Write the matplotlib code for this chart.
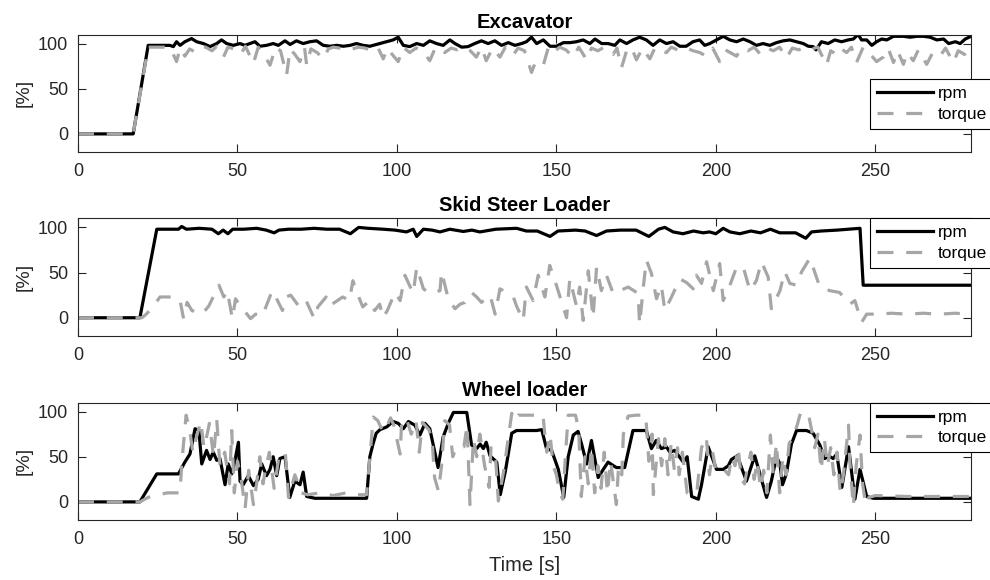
import matplotlib
matplotlib.use("Agg")
import matplotlib.pyplot as plt

plt.rcParams['font.family'] = ['Liberation Sans', 'DejaVu Sans']

# Excavator
exc_rpm_t = [0, 17.3, 22, 28.8, 29.9, 30.9, 32, 33.5, 35.6, 37.2, 39.3, 41.4, 43.5, 45, 46.6, 48.7, 50.8, 52.3, 53.9,
             55.5, 57, 59.1, 61.2, 62.8, 64.9, 66.5, 68.5, 70.6, 72.7, 74.8, 76.9, 79, 81.1, 83.2, 85.3, 87.3, 89.4,
             91.5, 93.6, 95.7, 98.8, 100.4, 102, 104, 106.2, 108.3, 110.3, 112.4, 114.5, 116.6, 118.2, 120.3, 122.3,
             124.4, 126.5, 128.6, 130.7, 132.8, 134.9, 137, 139.1, 140.6, 142.2, 143.8, 145.9, 148, 150, 152.2, 154.3,
             156.3, 158.4, 160.5, 162.1, 164.2, 166.2, 168.3, 169.9, 172, 174, 176.1, 178.2, 180.3, 182.4, 184.5,
             186.6, 188.7, 190.7, 192.8, 194.9, 196.5, 198.1, 200.2, 202.3, 204.4, 206.5, 208.6, 210.7, 212.7, 214.8,
             216.9, 219, 221.1, 223.2, 225.3, 227.4, 229, 230.5, 231.4, 233.1, 235.2, 237.3, 239.4, 241.5, 243.1,
             244.6, 245.7, 247.3, 248.9, 250.4, 252, 253.6, 255.7, 258.8, 260.9, 263, 265.1, 267.2, 269.3, 271.4,
             273, 275.1, 276.6, 278.2, 280]
exc_rpm = [0, 0, 98, 98, 96.6, 102, 98, 102, 105.5, 102, 100, 96.6, 100, 104, 100, 98, 100, 98, 100,
           102, 97, 98, 100, 98, 103, 99, 103, 100, 102, 103, 98, 97, 98, 97, 98, 100, 98,
           97, 99, 101, 104, 107, 98, 96.6, 100, 98, 103, 100, 98, 104, 100, 96, 96.6,
           100, 103, 100, 103, 98, 101, 98, 100, 102, 107, 100, 104, 97, 97, 101, 101,
           102, 104, 100, 105, 100, 100, 98, 104, 100, 104, 107, 104, 98, 104, 100,
           102, 97, 97, 102, 104, 98, 100, 104, 108, 104, 102, 105, 102, 98, 100,
           98, 101, 103, 104, 102, 100, 97, 96.6, 93, 102, 100, 104, 102, 104, 105,
           110, 104, 104, 98, 102, 105, 104, 108, 108, 107, 108, 108, 107, 104, 105,
           100, 102, 100, 105, 108]
exc_tq_t = [0, 17.3, 22, 27, 29, 30.9, 32, 33.5, 35, 36.5, 38, 40, 42, 43.5, 45.6, 47, 49, 51, 52.5, 55, 56.5, 58,
            60.2, 62, 63.5, 65.4, 66.5, 68, 69.6, 71, 71.7, 73, 75, 76.9, 78.5, 80, 82, 84, 86, 88, 90, 92, 94, 95.7,
            97, 98.5, 100.4, 102, 104, 106, 108, 110.3, 112, 113, 115, 117, 119, 121, 123, 124.9, 126.5, 128, 130,
            132.3, 134, 136.4, 138, 140, 142.2, 143.5, 145.9, 147.5, 149, 151, 153, 155.3, 157, 159.5, 161, 163, 165,
            167.8, 169, 170.4, 172, 173.5, 175.1, 177, 179.3, 181, 183, 184.5, 186, 188, 190, 192.9, 195, 197, 199,
            201.2, 203, 204.5, 206.5, 208, 210, 212, 214, 216, 218, 220, 222.1, 224, 226, 228, 230, 232, 234.7, 236,
            237.8, 239, 241, 242.5, 244.1, 246.2, 248, 250.4, 252.5, 254, 255.7, 257, 258.8, 260, 261.9, 263.5,
            266.1, 268, 270.3, 272, 274.5, 276, 278, 279.8]
exc_tq = [0, 0, 96, 96, 95, 80, 95, 86, 94, 91, 97, 96, 92, 97, 85, 96, 94, 88, 97, 78, 96, 90,
          76, 96, 92, 65, 94, 88, 80, 96, 76, 94, 90, 83, 94, 96, 95, 96, 94, 96, 95, 92, 96, 83,
          95, 88, 80, 96, 90, 95, 92, 81, 95, 96, 90, 95, 93, 96, 92, 85, 96, 81, 95,
          85, 96, 87, 95, 92, 68, 80, 76, 96, 90, 96, 93, 85, 96, 82, 95, 92, 96,
          88, 95, 73, 92, 96, 82, 95, 83, 96, 92, 90, 96, 93, 96, 92, 90, 86, 95,
          80, 93, 90, 86, 95, 92, 96, 88, 95, 92, 96, 84, 95, 93, 96, 94, 96, 76, 92,
          88, 95, 90, 96, 79, 96, 90, 80, 85, 95, 79, 92, 77, 90, 81, 93,
          77, 90, 86, 95, 79, 92, 88, 75]

# Skid steer loader
skid_rpm_t = [0, 19.4, 24.7, 31.5, 32.5, 34, 38, 42, 44, 45.5, 47, 48.5, 52, 56, 59, 61.5, 63, 66, 70, 74, 78, 82,
              85.4, 88, 91, 95.7, 99.4, 103, 105.1, 106.2, 108.3, 111, 113.5, 116.6, 120.8, 123.5, 126, 131, 137.5,
              140.6, 144, 148, 150.5, 156, 159, 162.6, 165.7, 170, 175, 179, 182, 184, 186.6, 189.7, 193, 196, 198,
              200, 202.3, 204.4, 207.5, 211, 214, 217.1, 220, 225, 228.2, 230, 233, 238, 245.2, 246.2, 280]
skid_rpm = [0, 0, 98, 98, 101, 98, 99, 98, 93, 97, 93, 98, 98, 99, 97, 94, 97, 98, 98, 99, 98, 98,
            93, 100, 99, 98, 97, 95, 98, 90, 98, 97, 95, 98, 95.5, 97, 95, 98, 99,
            96, 96, 90, 96, 97, 96, 91, 96, 97, 97, 90, 98, 100, 95, 93, 96, 94, 95,
            93, 99, 95, 93, 96, 94, 98, 94, 94, 88, 95, 96, 97, 99, 36, 36]
skid_tq_t = [0, 20, 21.4, 23.5, 25.7, 30.4, 32, 33.1, 34.2, 35.7, 38.9, 41, 44.2, 45.7, 46.8, 48.4, 49.4, 50.5,
             54.1, 55.7, 57.8, 60.9, 62, 64.1, 65.2, 66.7, 69.4, 71.5, 74.1, 75.2, 77.8, 78.8, 83, 85.1, 86.2,
             87.2, 89.3, 91.4, 93, 94.6, 95.6, 97, 99.4, 101, 102.5, 105.1, 106.2, 108.3, 110.3, 113.5, 114,
             116.1, 118.2, 119.8, 121.3, 123.4, 125, 126.5, 129.2, 130.8, 132.3, 134.4, 136.5, 137.5, 139.6,
             140.6, 142.7, 144.3, 146.4, 147.9, 150, 153.2, 154.2, 156.3, 157.3, 158.4, 160, 161.5, 162.6, 164.1,
             165.7, 167.8, 169.9, 172.5, 175.6, 176.1, 177.2, 178.2, 179.8, 181.4, 182.9, 184, 186.1, 188.7,
             190.8, 192.9, 193.9, 195.5, 197.1, 199.2, 201.2, 202.3, 204.4, 206.5, 208.6, 210.7, 212.7, 214.3,
             216.4, 217.4, 220.1, 221.6, 223.2, 225.3, 226.9, 229.5, 232.6, 235.7, 238.8, 242, 243.6, 245.7,
             247.3, 250.4, 255, 260, 265, 270, 275, 280]
skid_tq = [0, 0, 4, 12, 23, 23, 19, -1, 17, 8, 4, 13, 36, 23, 30, -1, 21, 15,
           -1, 4, 2, 30, 23, 8, 23, 25, 12, 19, -1, 12, 23, 13, 23, 19, 41,
           30, 12, 19, 8, 15, 0, 8, 28, 19, 47, 27, 56, 32, 27, 30, 51,
           21, 10, 15, 17, 28, 23, 17, 25, 4, 32, 28, 23, 13, -3,
           34, 19, 47, 23, 58, 36, 0, 43, 13, 34, -3, 52, 0, 56, 30,
           47, 27, 30, 34, 27, -7, 32, 64, 49, 21, 36, 8, 23, 43,
           39, 32, 47, 38, 62, 30, 60, 19, 36, 56, 56, 30, 41, 62,
           45, 10, 30, 51, 38, 36, 51, 66, 34, 30, 28, 15, 19, -5,
           4, 4, 5, 4, 5, 4, 5, 4]

# Wheel loader
wl_rpm_t = [0, 19.4, 24.7, 31.5, 33.5, 35.1, 36.7, 37.9, 38.8, 40.3, 41.4, 42.4, 43.5, 44.5, 46.1, 47.1, 48.2, 49,
            50.3, 50.8, 51.8, 53.4, 55, 56.5, 57.6, 59.1, 60.2, 61.2, 62.3, 63.3, 64.9, 66.4, 68, 69.6, 70.6, 71.7,
            74.3, 90.5, 91.5, 92.5, 93.5, 94.7, 96.8, 98.8, 100.4, 102, 103.6, 105.6, 107.2, 108.8, 110.3, 112.9,
            114.5, 116.1, 117.7, 121.9, 123.4, 125, 126.1, 127.1, 128, 129.2, 131.3, 132.4, 134, 136, 137.5, 143.8,
            145.4, 146.9, 148.5, 150.6, 152.3, 153.7, 155.3, 156.8, 157.9, 159.5, 161, 163.1, 164.7, 166.2, 168.8,
            171.4, 174, 178.2, 179.8, 181.3, 182.9, 184.5, 185.6, 187.1, 189.8, 191, 192.4, 194.5, 195.5, 197.6,
            200.2, 202.3, 203.9, 204.9, 206.7, 209.6, 212.2, 213.8, 215.9, 217.4, 219, 220.1, 220.9, 222.1, 223.7,
            225.3, 228.4, 230.5, 232.6, 234.2, 235.3, 236.8, 237.9, 239.5, 241.6, 243.6, 245.2, 247.3, 249.4, 280]
wl_rpm = [0, 0, 31, 31, 44, 53, 81, 79, 42, 57, 47, 55, 46, 48, 19, 42, 31, 42,
          66, 23, 19, 29, 18, 25, 42, 29, 36, 50, 29, 48, 50, 5, 23, 19, 33, 6,
          4, 4, 50, 64, 76, 80, 83, 89, 87, 81, 89, 85, 74, 87, 81, 38,
          72, 87, 99, 99, 63, 59, 64, 59, 66, 51, 44, 8, 34, 76, 79, 79,
          80, 59, 57, 36, 5, 50, 74, 78, 64, 42, 68, 27, 36, 44, 38,
          38, 79, 79, 59, 68, 59, 61, 55, 57, 44, 50, 6, 3, 19, 61,
          36, 36, 40, 47, 51, 23, 51, 31, 5, 23, 50, 42, 19, 31, 64,
          79, 79, 76, 63, 48, 51, 48, 53, 16, 61, 3, 36, 6, 4, 4]
wl_tq_t = [0, 19.4, 22, 24, 28, 32, 32.5, 33.9, 35, 36, 37, 38.5, 39.5, 40.5, 41.2, 42.5, 43.5, 44.5, 46, 47.5,
           48.2, 49, 50, 51, 52.4, 53.5, 55, 56, 57, 58, 59, 60, 61.5, 63, 65, 66, 68, 70, 72, 76, 80, 84, 88, 90.5,
           92.6, 94, 95, 96, 97, 98, 99, 101, 101.5, 103, 104.5, 106, 107, 108, 110, 111, 111.8, 113, 114, 115,
           116.5, 117.5, 118.7, 121, 122, 122.9, 124, 125, 126, 127.5, 128.9, 129.5, 131, 131.8, 133.5, 136, 137,
           138, 140.6, 145.8, 146.5, 147, 148, 149, 150, 151, 152, 153, 153.7, 156, 157, 157.8, 159, 160, 161, 162,
           163, 164, 165, 166, 167, 168.8, 169.5, 170.5, 171, 172.5, 175, 178, 179, 180, 180.4, 182, 183, 184, 185,
           186, 187, 188, 188.5, 189.5, 191, 192, 194, 195.5, 197, 198, 199, 200, 202, 204, 205, 206, 207, 208,
           209, 210, 211, 212, 213, 214, 215, 216, 217.1, 218, 219, 220, 221, 222, 223, 224, 225.5, 226.5, 229,
           230, 231, 232, 233, 234, 235, 236, 237, 238, 239, 240, 241.6, 242, 243.1, 244, 245.2, 246, 247, 248,
           250, 260, 270, 280]
wl_tq = [0, 0, 5, 7, 10, 10, 42, 96, 80, 55, 70, 89, 60, 75, 87, 50, 91, 40, 55, 20,
         79, 10, 45, 30, -7, 35, -3, 20, 50, 20, 40, 55, 15, 50, 55, 5, 30, 10, 8, 10, 7, 10, 8, 8,
         94, 90, 82, 90, 85, 93, 85, 53, 90, 92, 75, 90, 55, 88, 80, 70, 27, 12, 40, 90,
         85, 50, 61, 61, 85, -3, 70, 50, 75, 40, 16, 60, 45, 1, 35, 98, 90,
         96, 96, 96, 70, 55, 75, 40, 30, 10, 3, 60, 96, 96, 80, 6, 50, 20, 60, 10,
         40, 15, 55, 10, 45, -3, 40, 30, 75, 95, 96, 96, 45, 75, 8, 70, 40, 70, 30,
         65, 35, 60, 30, 55, 10, 8, 10, 60, 72, 30, 55, 35, 38, 30, 50, 40, 60, 25,
         20, 40, 55, 25, 45, 15, 35, 10, 74, 30, 65, 10, 50, 30, 65, 70, 85, 98, 98,
         80, 60, 75, 35, 70, 40, 60, 30, 55, 10, 30, 85, 45, -5, 40, 74, 20, -3, 5,
         7, 6, 6, 6]

titles = ['Excavator', 'Skid Steer Loader', 'Wheel loader']
rpm_t = [exc_rpm_t, skid_rpm_t, wl_rpm_t]
rpm_v = [exc_rpm, skid_rpm, wl_rpm]
tq_t = [exc_tq_t, skid_tq_t, wl_tq_t]
tq_v = [exc_tq, skid_tq, wl_tq]
legend_anchor = [(0.887, 0.62), (0.887, 1.0), (0.887, 1.0)]

axis_col = '#262626'
fig = plt.figure(figsize=(9.9, 5.8), dpi=100)
bottoms = [0.738, 0.421, 0.1035]

for i in range(3):
    ax = fig.add_axes([0.0788, bottoms[i], 0.902, 0.2025])
    ax.plot(rpm_t[i], rpm_v[i], color='black', lw=2.3, label='rpm')
    ax.plot(tq_t[i], tq_v[i], color='#a6a6a6', lw=2.3, ls=(0, (5, 4)), label='torque')
    ax.set_xlim(0, 280)
    ax.set_ylim(-20, 110)
    ax.set_xticks([0, 50, 100, 150, 200, 250])
    ax.set_yticks([0, 50, 100])
    ax.tick_params(direction='in', top=True, right=True, length=6, width=0.8,
                   labelsize=13, colors=axis_col)
    ax.tick_params(axis='x', pad=8)
    ax.tick_params(axis='y', pad=7)
    for sp in ax.spines.values():
        sp.set_color(axis_col)
        sp.set_linewidth(0.8)
    ax.set_title(titles[i], fontsize=14.5, fontweight='bold', pad=5, color='black')
    ax.set_ylabel('[%]', fontsize=14, color=axis_col, labelpad=4)
    leg = ax.legend(loc='upper left', bbox_to_anchor=legend_anchor[i], borderaxespad=0,
                    fancybox=False, edgecolor='black', framealpha=1, fontsize=12.5,
                    handlelength=3.2, handletextpad=0.3, labelspacing=0.3, borderpad=0.4)
    leg.get_frame().set_linewidth(0.8)
    if i == 2:
        ax.set_xlabel('Time [s]', fontsize=14.5, color=axis_col, labelpad=6)

fig.savefig('out.png', dpi=100)
